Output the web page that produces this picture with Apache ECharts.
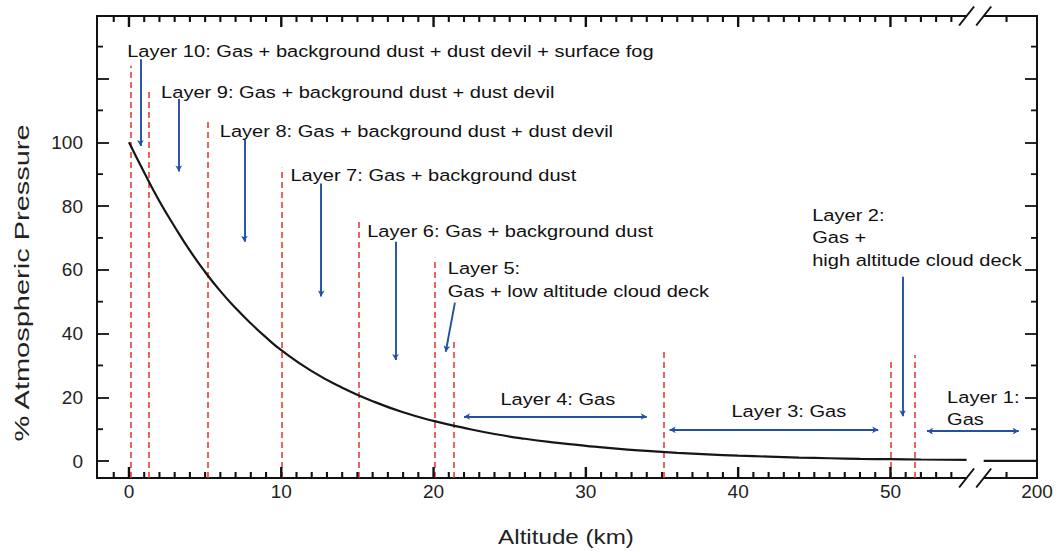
<!DOCTYPE html>
<html>
<head>
<meta charset="utf-8">
<script src="https://cdn.jsdelivr.net/npm/echarts@6/dist/echarts.min.js"></script>
<style>
  html, body { margin: 0; padding: 0; background: #ffffff; }
  #chart { width: 1062px; height: 552px; }
</style>
</head>
<body>
<div id="chart"></div>
<script>
// Pressure profile: altitude (km) against % of surface pressure
const altitudeLow = [0, 1, 2, 3, 4, 5, 6, 7, 8, 9, 10, 12, 14, 16, 18, 20, 22, 24, 26, 28, 30, 32, 34, 36, 38, 40, 42, 44, 46, 48, 50, 52, 55];
const pressureLow = [100, 90.5, 81.5, 73.5, 66, 59.3, 53.3, 48, 43.2, 38.8, 34.8, 28.2, 23, 18.8, 15.3, 12.6, 10.4, 8.5, 7.0, 5.8, 4.8, 3.9, 3.2, 2.6, 2.1, 1.7, 1.4, 1.1, 0.9, 0.7, 0.6, 0.5, 0.4];
const altitudeHigh = [196.5, 200];
const pressureHigh = [0.1, 0.1];

// Layer boundaries (km) and the pressure level where each dashed marker stops
const boundaryAltitude = [0.1, 1.3, 5.2, 10.0, 15.1, 20.1, 21.3, 35.1, 50.0, 51.6];
const boundaryTop = [124, 117, 107, 92, 75.3, 63.8, 38, 34.5, 31.9, 33.3];

// Pointer arrows: start and end as [km, %]
const arrowStart = [[0.75, 126], [3.27, 113.6], [7.58, 100.7], [12.62, 87.1], [17.5, 68.8], [21.4, 49.7], [22.0, 14], [35.5, 9.8], [50.8, 57.8], [52.4, 9.4]];
const arrowEnd = [[0.75, 98.8], [3.27, 90.8], [7.58, 68.8], [12.62, 51.6], [17.5, 31.7], [20.8, 34.3], [34.0, 14], [49.2, 9.8], [50.8, 14.1], [198.8, 9.4]];
const arrowBothEnds = [false, false, false, false, false, false, true, true, false, true];

// Layer descriptions
const layerText = [
  'Layer 10: Gas + background dust + dust devil + surface fog',
  'Layer 9: Gas + background dust + dust devil',
  'Layer 8: Gas + background dust + dust devil',
  'Layer 7: Gas + background dust',
  'Layer 6: Gas + background dust',
  'Layer 5:\nGas + low altitude cloud deck',
  'Layer 4: Gas',
  'Layer 3: Gas',
  'Layer 2:\nGas +\nhigh altitude cloud deck',
  'Layer 1:\nGas'
];
// where each description starts (left edge, vertical middle) in [km, %]
const layerAnchor = [[-0.12, 128.6], [2.11, 115.8], [5.96, 103.5], [10.6, 89.7], [15.64, 72.1], [20.93, 56.9], [24.39, 19.5], [39.56, 15.7], [44.86, 70.2], [53.72, 16.7]];

const xTickLabels = [0, 10, 20, 30, 40, 50, 200];
const yTickLabels = [0, 20, 40, 60, 80, 100];

const X_MIN = -2.1, X_MAX = 200;
const Y_MIN = -5.3, Y_MAX = 139.6;
const BREAK_START = 55, BREAK_END = 196.5;
const axisBreaks = [{ start: BREAK_START, end: BREAK_END, gap: '1.82%' }];

const FONT = '"Liberation Sans", Arial, Helvetica, sans-serif';
const INK = '#111111';
const RED = '#e5322b';
const BLUE = '#2350a3';

const xMajor = [0, 10, 20, 30, 40, 50];
const xMinor = [];
for (let v = -1; v <= 54; v++) if (v % 10 !== 0) xMinor.push(v);
xMinor.push(198);
const yMajor = [0, 20, 40, 60, 80, 100, 120];
const yMinor = [10, 30, 50, 70, 90, 110, 130];

const chart = echarts.init(document.getElementById('chart'), null, { renderer: 'svg' });

function xAxisDef(position, withLabels) {
  return {
    type: 'value', position: position, min: X_MIN, max: X_MAX,
    breaks: axisBreaks,
    breakArea: { show: false },
    splitLine: { show: false },
    axisLine: { show: true, onZero: false, lineStyle: { color: INK, width: 2 } },
    axisTick: { show: false },
    axisLabel: withLabels
      ? { show: true, customValues: xTickLabels, fontSize: 19, fontFamily: FONT, color: '#222', margin: 4, formatter: v => String(v) }
      : { show: false }
  };
}
function yAxisDef(position, withLabels) {
  return {
    type: 'value', position: position, min: Y_MIN, max: Y_MAX,
    splitLine: { show: false },
    axisLine: { show: true, onZero: false, lineStyle: { color: INK, width: 2 } },
    axisTick: { show: true, inside: true, length: 12, customValues: yMajor, lineStyle: { color: INK, width: 1.8 } },
    axisLabel: withLabels
      ? { show: true, customValues: yTickLabels, fontSize: 19, fontFamily: FONT, color: '#222', margin: 14, formatter: v => String(v) }
      : { show: false }
  };
}

// short inward ticks between the labelled ones on the left and right edges
const yMinorTicks = {
  type: 'custom', silent: true, clip: false, z: 5,
  xAxisIndex: 0, yAxisIndex: 0,
  data: yMinor.map(v => [0, v]),
  renderItem: function (params, api) {
    const v = api.value(1);
    const l = api.coord([X_MIN, v]);
    const r = api.coord([X_MAX, v]);
    const st = { stroke: INK, lineWidth: 1.8 };
    return {
      type: 'group', children: [
        { type: 'line', shape: { x1: l[0], y1: l[1], x2: l[0] + 6, y2: l[1] }, style: st },
        { type: 'line', shape: { x1: r[0], y1: r[1], x2: r[0] - 6, y2: r[1] }, style: st }
      ]
    };
  }
};

const curveStyle = { color: '#161616', width: 2.2 };

const option = {
  animation: false,
  backgroundColor: '#ffffff',
  grid: { left: 97, right: 25, top: 16, bottom: 74, containLabel: false },
  xAxis: [xAxisDef('bottom', true), xAxisDef('top', false)],
  yAxis: [yAxisDef('left', true), yAxisDef('right', false)],
  series: [
    {
      type: 'line', name: 'pressure', xAxisIndex: 0, yAxisIndex: 0, z: 4,
      data: altitudeLow.map((a, i) => [a, pressureLow[i]]),
      showSymbol: false, symbol: 'none', smooth: true,
      lineStyle: curveStyle,
      markLine: {
        silent: true, symbol: ['none', 'none'], z: 2,
        label: { show: false },
        lineStyle: { color: RED, type: [6, 4], width: 1.5 },
        data: boundaryAltitude.map((a, i) => [{ coord: [a, Y_MIN] }, { coord: [a, boundaryTop[i]] }])
      }
    },
    {
      type: 'line', name: 'pressure-high', xAxisIndex: 0, yAxisIndex: 0, z: 4,
      data: altitudeHigh.map((a, i) => [a, pressureHigh[i]]),
      showSymbol: false, symbol: 'none',
      lineStyle: curveStyle,
      markLine: {
        silent: true, z: 3,
        label: { show: false },
        lineStyle: { color: BLUE, type: 'solid', width: 1.9 },
        symbolSize: [5, 6],
        data: arrowStart.map((s, i) => [
          { coord: s, symbol: arrowBothEnds[i] ? 'arrow' : 'none' },
          { coord: arrowEnd[i], symbol: 'arrow' }
        ])
      }
    },
    yMinorTicks
  ]
};

chart.setOption(option);

// Text annotations, altitude ticks and axis-break marks, placed through the axes' own scales
const toPx = p => chart.convertToPixel({ xAxisIndex: 0, yAxisIndex: 0 }, p);
const gfx = [];

const frameTop = toPx([0, Y_MAX])[1];
const frameBottom = toPx([0, Y_MIN])[1];

// inward altitude ticks on the bottom and top edges
[[xMajor, 11, 2.4], [xMinor, 6, 2.1]].forEach(spec => {
  const vals = spec[0], len = spec[1], w = spec[2];
  vals.forEach(v => {
    const px = toPx([v, 0])[0];
    gfx.push({ type: 'rect', silent: true, z: 30, shape: { x: px - w / 2, y: frameBottom - len, width: w, height: len }, style: { fill: INK } });
    gfx.push({ type: 'rect', silent: true, z: 30, shape: { x: px - w / 2, y: frameTop, width: w, height: len }, style: { fill: INK } });
  });
});

layerText.forEach((t, i) => {
  const p = toPx(layerAnchor[i]);
  gfx.push({
    type: 'text', x: p[0], y: p[1], scaleX: 1.18, silent: true, z: 10,
    style: {
      text: t, fill: INK, font: '17px ' + FONT, lineHeight: 22.5,
      textAlign: 'left', textVerticalAlign: 'middle', align: 'left', verticalAlign: 'middle'
    }
  });
});

const bx0 = toPx([BREAK_START, 0])[0];
const bx1 = toPx([BREAK_END, 0])[0];
[frameTop, frameBottom].forEach(yy => {
  gfx.push({ type: 'rect', silent: true, z: 20, shape: { x: bx0, y: yy - 4, width: bx1 - bx0, height: 8 }, style: { fill: '#ffffff' } });
  [bx0, bx1].forEach(xx => {
    gfx.push({ type: 'line', silent: true, z: 21, shape: { x1: xx - 7.5, y1: yy + 9.5, x2: xx + 7.5, y2: yy - 9.5 }, style: { stroke: INK, lineWidth: 2 } });
  });
});

gfx.push({
  type: 'text', x: 566, y: 537, scaleX: 1.21, silent: true,
  style: { text: 'Altitude (km)', fill: '#222', font: '20px ' + FONT, textAlign: 'center', textVerticalAlign: 'middle', align: 'center', verticalAlign: 'middle' }
});
gfx.push({
  type: 'text', x: 22, y: 283, rotation: Math.PI / 2, scaleX: 1.38, silent: true,
  style: { text: '% Atmospheric Pressure', fill: '#222', font: '21px ' + FONT, textAlign: 'center', textVerticalAlign: 'middle', align: 'center', verticalAlign: 'middle' }
});

chart.setOption({ graphic: gfx });
</script>
</body>
</html>
